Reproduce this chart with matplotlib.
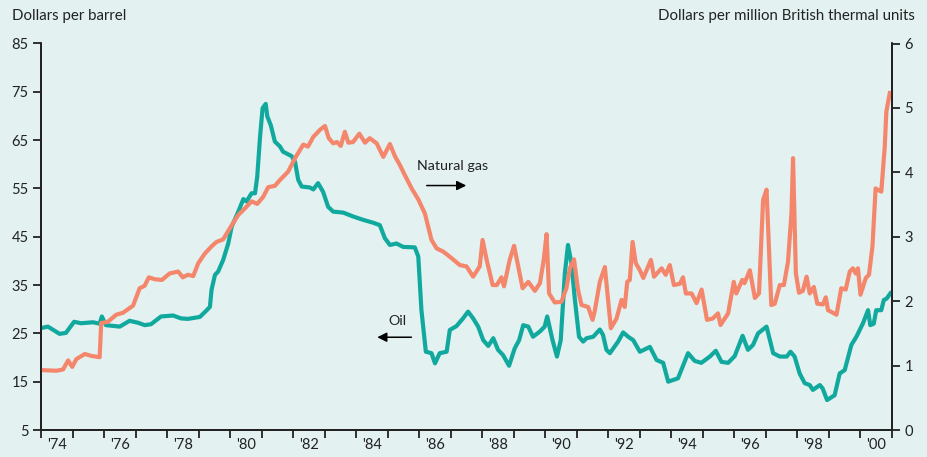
import matplotlib
matplotlib.use("Agg")
import matplotlib.pyplot as plt
from matplotlib.ticker import FixedLocator, NullFormatter

# ---- data (decimal year, value) ----
oil_t = [1974.00, 1974.22, 1974.59, 1974.79, 1975.05, 1975.27, 1975.65, 1975.86, 1975.93, 1976.06,
         1976.50, 1976.81, 1977.08, 1977.29, 1977.49, 1977.81, 1978.19, 1978.44, 1978.66, 1979.04,
         1979.26, 1979.36, 1979.41, 1979.52, 1979.62, 1979.78, 1979.94, 1980.05, 1980.26, 1980.42,
         1980.52, 1980.68, 1980.79, 1980.86, 1980.95, 1981.03, 1981.13, 1981.18, 1981.29, 1981.42,
         1981.58, 1981.68, 1981.95, 1982.06, 1982.16, 1982.27, 1982.53, 1982.64, 1982.79, 1982.95,
         1983.11, 1983.27, 1983.59, 1983.90, 1984.22, 1984.54, 1984.75, 1984.91, 1985.07, 1985.28,
         1985.49, 1985.86, 1985.97, 1986.07, 1986.21, 1986.39, 1986.50, 1986.65, 1986.87, 1986.97,
         1987.18, 1987.39, 1987.55, 1987.71, 1987.87, 1988.03, 1988.19, 1988.35, 1988.50, 1988.66,
         1988.85, 1989.03, 1989.17, 1989.30, 1989.46, 1989.61, 1989.83, 1989.98, 1990.06, 1990.23,
         1990.37, 1990.49, 1990.62, 1990.72, 1990.83, 1990.94, 1991.07, 1991.20, 1991.31, 1991.52,
         1991.73, 1991.83, 1991.94, 1992.05, 1992.31, 1992.47, 1992.63, 1992.79, 1993.00, 1993.32,
         1993.53, 1993.74, 1993.90, 1994.21, 1994.53, 1994.74, 1994.95, 1995.22, 1995.41, 1995.59,
         1995.80, 1996.01, 1996.26, 1996.43, 1996.59, 1996.75, 1996.96, 1997.02, 1997.23, 1997.44,
         1997.66, 1997.78, 1997.91, 1998.07, 1998.23, 1998.39, 1998.49, 1998.71, 1998.80, 1998.94,
         1999.18, 1999.34, 1999.50, 1999.71, 1999.87, 2000.08, 2000.24, 2000.31, 2000.42, 2000.50,
         2000.66, 2000.74, 2000.83, 2000.95]
oil_v = [26.1, 26.4, 24.9, 25.1, 27.4, 27.1, 27.3, 27.0, 28.5, 26.7,
         26.4, 27.6, 27.2, 26.7, 26.9, 28.5, 28.7, 28.1, 28.0, 28.4,
         29.8, 30.5, 34.0, 37.1, 37.8, 40.2, 43.6, 47.1, 50.2, 52.8,
         52.3, 54.0, 54.0, 57.4, 65.7, 71.6, 72.5, 69.9, 68.1, 64.7,
         63.7, 62.6, 61.7, 60.5, 56.8, 55.4, 55.2, 54.8, 56.1, 54.3,
         51.2, 50.2, 50.0, 49.2, 48.5, 47.9, 47.4, 44.7, 43.3, 43.6,
         42.9, 42.8, 40.9, 29.8, 21.2, 20.9, 18.8, 20.9, 21.2, 25.7,
         26.5, 28.1, 29.5, 28.1, 26.4, 23.6, 22.4, 24.0, 21.6, 20.5,
         18.3, 21.9, 23.6, 26.7, 26.4, 24.3, 25.4, 26.4, 28.5, 23.6,
         20.2, 23.6, 37.4, 43.3, 39.5, 31.9, 24.3, 23.3, 24.0, 24.3,
         25.8, 24.7, 21.6, 20.9, 23.3, 25.2, 24.3, 23.6, 21.2, 22.2,
         19.5, 18.9, 15.0, 15.7, 20.9, 19.3, 18.9, 20.2, 21.4, 19.1,
         18.9, 20.3, 24.5, 21.6, 22.6, 25.0, 26.1, 26.4, 20.9, 20.2,
         20.2, 21.2, 20.2, 16.7, 14.7, 14.3, 13.3, 14.3, 13.6, 11.2,
         12.2, 16.7, 17.4, 22.6, 24.3, 27.1, 29.8, 26.7, 27.0, 29.8,
         29.8, 31.9, 32.2, 33.3]

gas_t = [1974.01, 1974.49, 1974.70, 1974.86, 1974.99, 1975.12, 1975.39, 1975.60, 1975.86, 1975.91,
         1976.12, 1976.39, 1976.60, 1976.92, 1977.13, 1977.29, 1977.42, 1977.61, 1977.84, 1978.08,
         1978.35, 1978.50, 1978.66, 1978.83, 1978.99, 1979.20, 1979.41, 1979.57, 1979.78, 1979.99,
         1980.26, 1980.47, 1980.68, 1980.86, 1981.05, 1981.21, 1981.42, 1981.58, 1981.84, 1982.06,
         1982.32, 1982.47, 1982.64, 1982.85, 1983.01, 1983.13, 1983.27, 1983.39, 1983.51, 1983.64,
         1983.75, 1983.90, 1984.10, 1984.28, 1984.43, 1984.65, 1984.86, 1985.07, 1985.23, 1985.39,
         1985.54, 1985.76, 1985.97, 1986.18, 1986.39, 1986.55, 1986.76, 1986.97, 1987.29, 1987.50,
         1987.71, 1987.92, 1988.01, 1988.14, 1988.33, 1988.46, 1988.61, 1988.69, 1988.87, 1989.01,
         1989.14, 1989.28, 1989.46, 1989.67, 1989.83, 1989.95, 1990.04, 1990.12, 1990.30, 1990.51,
         1990.67, 1990.78, 1990.91, 1991.04, 1991.15, 1991.36, 1991.50, 1991.57, 1991.73, 1991.89,
         1992.08, 1992.26, 1992.42, 1992.52, 1992.60, 1992.68, 1992.77, 1992.87, 1993.00, 1993.11,
         1993.35, 1993.45, 1993.69, 1993.82, 1993.95, 1994.08, 1994.27, 1994.37, 1994.46, 1994.64,
         1994.80, 1994.96, 1995.13, 1995.31, 1995.48, 1995.56, 1995.80, 1995.98, 1996.06, 1996.25,
         1996.32, 1996.49, 1996.65, 1996.78, 1996.91, 1997.02, 1997.17, 1997.28, 1997.44, 1997.57,
         1997.70, 1997.81, 1997.86, 1997.95, 1998.05, 1998.17, 1998.29, 1998.39, 1998.52, 1998.63,
         1998.81, 1998.90, 1998.97, 1999.24, 1999.39, 1999.53, 1999.66, 1999.76, 1999.85, 1999.92,
         2000.00, 2000.17, 2000.27, 2000.38, 2000.48, 2000.66, 2000.77, 2000.82, 2000.93]
gas_v = [0.93, 0.92, 0.94, 1.08, 0.98, 1.10, 1.18, 1.15, 1.13, 1.66,
         1.68, 1.79, 1.82, 1.93, 2.20, 2.24, 2.37, 2.34, 2.33, 2.43,
         2.46, 2.37, 2.41, 2.39, 2.59, 2.74, 2.85, 2.92, 2.96, 3.13,
         3.34, 3.44, 3.55, 3.51, 3.62, 3.77, 3.79, 3.88, 4.01, 4.22,
         4.43, 4.40, 4.55, 4.66, 4.72, 4.53, 4.45, 4.47, 4.41, 4.63,
         4.46, 4.47, 4.60, 4.46, 4.53, 4.45, 4.24, 4.44, 4.25, 4.11,
         3.96, 3.75, 3.58, 3.36, 2.95, 2.82, 2.77, 2.69, 2.56, 2.54,
         2.38, 2.54, 2.95, 2.64, 2.25, 2.25, 2.37, 2.23, 2.64, 2.86,
         2.54, 2.20, 2.30, 2.16, 2.28, 2.64, 3.04, 2.12, 1.98, 1.99,
         2.20, 2.51, 2.65, 2.17, 1.94, 1.91, 1.71, 1.85, 2.30, 2.53,
         1.58, 1.73, 2.02, 1.91, 2.30, 2.33, 2.92, 2.59, 2.48, 2.36,
         2.64, 2.38, 2.51, 2.41, 2.56, 2.25, 2.27, 2.37, 2.12, 2.12,
         1.97, 2.18, 1.71, 1.73, 1.81, 1.63, 1.81, 2.30, 2.12, 2.33,
         2.28, 2.48, 2.05, 2.12, 3.57, 3.73, 1.94, 1.96, 2.25, 2.25,
         2.61, 3.36, 4.22, 2.43, 2.13, 2.16, 2.38, 2.12, 2.22, 1.96,
         1.95, 2.06, 1.86, 1.79, 2.20, 2.18, 2.46, 2.51, 2.43, 2.51,
         2.10, 2.36, 2.41, 2.85, 3.75, 3.70, 4.40, 4.94, 5.23]

year_labels = ["'74", "'76", "'78", "'80", "'82", "'84", "'86", "'88", "'90", "'92", "'94", "'96", "'98", "'00"]
label_years = [1974, 1976, 1978, 1980, 1982, 1984, 1986, 1988, 1990, 1992, 1994, 1996, 1998, 2000]
left_ticks = [5, 15, 25, 35, 45, 55, 65, 75, 85]
right_ticks = [0, 1, 2, 3, 4, 5, 6]

BG = "#E3F1F1"
OIL = "#11A99E"
GAS = "#F4866C"
INK = "#222222"

plt.rcParams['font.family'] = ['Lato', 'DejaVu Sans']

fig = plt.figure(figsize=(9.28, 4.57), dpi=100, facecolor=BG)
ax = fig.add_axes([41/928, 1-430/457, (892-41)/928, (430-43.5)/457])
ax.set_facecolor(BG)
ax2 = ax.twinx()

ax.plot(oil_t, oil_v, color=OIL, lw=3.0, solid_joinstyle='round', zorder=3)
ax2.plot(gas_t, gas_v, color=GAS, lw=3.0, solid_joinstyle='round', zorder=2)

ax.set_xlim(1974, 2001)
ax.set_ylim(5, 85)
ax2.set_ylim(0, 6)

# x ticks: marks at every year boundary, labels centred on even years
ax.xaxis.set_major_locator(FixedLocator(list(range(1974, 2002))))
ax.xaxis.set_major_formatter(NullFormatter())
ax.xaxis.set_minor_locator(FixedLocator([y + 0.5 for y in label_years]))
ax.set_xticklabels(year_labels, minor=True)
ax.tick_params(axis='x', which='major', length=6, width=1.3, color=INK, direction='out')
ax.tick_params(axis='x', which='minor', length=0, pad=6, labelsize=10.5, labelcolor=INK)

ax.set_yticks(left_ticks)
ax.tick_params(axis='y', length=6, width=1.3, color=INK, labelsize=10.5, labelcolor=INK, pad=3)
ax2.set_yticks(right_ticks)
ax2.tick_params(axis='y', length=6, width=1.3, color=INK, labelsize=10.5, labelcolor=INK, pad=3)

for a in (ax, ax2):
    a.spines['top'].set_visible(False)
    for s in ('left', 'right', 'bottom'):
        a.spines[s].set_color(INK)
        a.spines[s].set_linewidth(1.3)

fig.text(12/928, 1-16/457, "Dollars per barrel", ha='left', va='center', fontsize=10.8, color=INK)
fig.text(915/928, 1-16/457, "Dollars per million British thermal units", ha='right', va='center',
         fontsize=10.8, color=INK)

# annotations
ax.annotate("", xy=(1987.58, 55.6), xytext=(1986.15, 55.6),
            arrowprops=dict(arrowstyle='-|>', color='black', lw=1.1, mutation_scale=14))
ax.text(1987.05, 59.6, "Natural gas", ha='center', va='center', fontsize=10.3, color=INK)
ax.annotate("", xy=(1984.58, 24.2), xytext=(1985.84, 24.2),
            arrowprops=dict(arrowstyle='-|>', color='black', lw=1.1, mutation_scale=14))
ax.text(1985.31, 27.5, "Oil", ha='center', va='center', fontsize=10.3, color=INK)

fig.savefig("out.png", dpi=100, facecolor=BG)
